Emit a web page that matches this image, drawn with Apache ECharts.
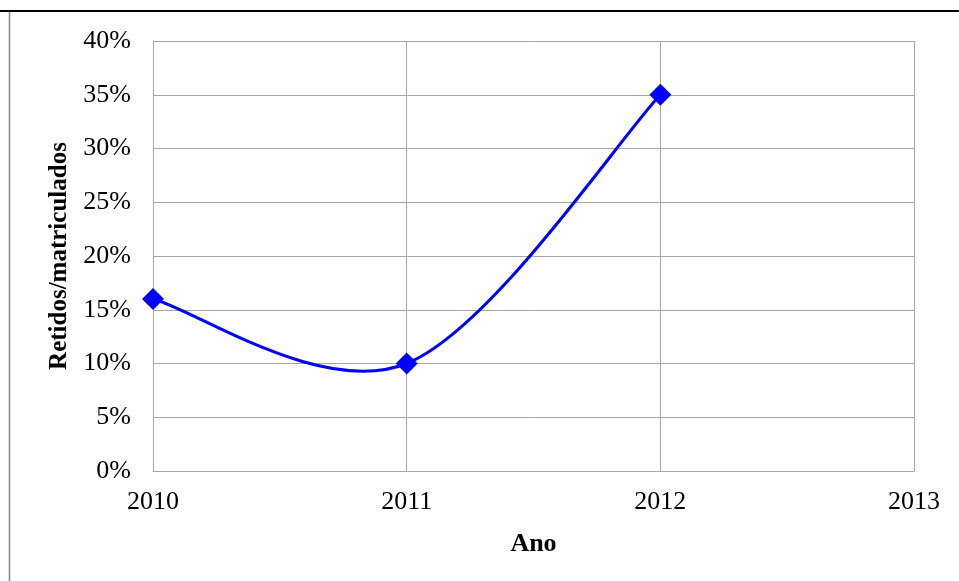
<!DOCTYPE html>
<html>
<head>
<meta charset="utf-8">
<script src="https://cdn.jsdelivr.net/npm/echarts@6/dist/echarts.min.js"></script>
<style>
    html, body { margin: 0; padding: 0; background: #fff; }
    #chart { width: 959px; height: 581px; }
</style>
</head>
<body>
<div id="chart"></div>
<script>
var years = [2010, 2011, 2012];
var retidos = [16, 10, 35];   // % retidos/matriculados

var chart = echarts.init(document.getElementById('chart'));

var points = [];
for (var i = 0; i < years.length; i++) {
    points.push([years[i], retidos[i]]);
}

var serif = '"Liberation Serif", "Times New Roman", serif';

// spreadsheet-style smoothed line: one bezier per segment,
// control points taken from the neighbouring data points
function renderCurve(params, api) {
    var i = params.dataIndex;
    var n = points.length;
    if (i >= n - 1) {
        return null;
    }
    var p0 = api.coord(points[Math.max(i - 1, 0)]);
    var p1 = api.coord(points[i]);
    var p2 = api.coord(points[i + 1]);
    var p3 = api.coord(points[Math.min(i + 2, n - 1)]);
    return {
        type: 'bezierCurve',
        shape: {
            x1: p1[0], y1: p1[1],
            cpx1: p1[0] + (p2[0] - p0[0]) / 6,
            cpy1: p1[1] + (p2[1] - p0[1]) / 6,
            cpx2: p2[0] - (p3[0] - p1[0]) / 6,
            cpy2: p2[1] - (p3[1] - p1[1]) / 6,
            x2: p2[0], y2: p2[1]
        },
        style: { stroke: '#0000ff', lineWidth: 3, fill: null }
    };
}

chart.setOption({
    backgroundColor: '#ffffff',
    animation: false,
    graphic: [
        {
            type: 'line',
            shape: { x1: 0, y1: 11, x2: 959, y2: 11 },
            style: { stroke: '#000', lineWidth: 2 }
        },
        {
            type: 'line',
            shape: { x1: 9.5, y1: 12, x2: 9.5, y2: 581 },
            style: { stroke: '#888', lineWidth: 1.5 }
        }
    ],
    grid: {
        left: 153,
        right: 45,
        top: 41,
        bottom: 110
    },
    xAxis: {
        type: 'value',
        min: 2010,
        max: 2013,
        interval: 1,
        name: 'Ano',
        nameLocation: 'middle',
        nameGap: 60,
        nameTextStyle: { fontFamily: serif, fontSize: 26, fontWeight: 'bold', color: '#000' },
        axisLine: { show: true, lineStyle: { color: '#a6a6a6', width: 1 } },
        axisTick: { show: false },
        splitLine: { show: true, lineStyle: { color: '#a6a6a6', width: 1 } },
        axisLabel: {
            fontFamily: serif, fontSize: 26, color: '#000', margin: 18,
            formatter: function (v) { return String(v); }
        }
    },
    yAxis: {
        type: 'value',
        min: 0,
        max: 40,
        interval: 5,
        name: 'Retidos/matriculados',
        nameLocation: 'middle',
        nameGap: 77,
        nameTextStyle: { fontFamily: serif, fontSize: 25, fontWeight: 'bold', color: '#000' },
        axisLine: { show: true, lineStyle: { color: '#a6a6a6', width: 1 } },
        axisTick: { show: false },
        splitLine: { show: true, lineStyle: { color: '#a6a6a6', width: 1 } },
        axisLabel: {
            fontFamily: serif, fontSize: 26, color: '#000', margin: 22,
            formatter: '{value}%'
        }
    },
    series: [
        {
            type: 'custom',
            renderItem: renderCurve,
            data: points,
            z: 2
        },
        {
            type: 'scatter',
            data: points,
            symbol: 'diamond',
            symbolSize: [22, 22],
            itemStyle: { color: '#0000ff', opacity: 1 },
            z: 3
        }
    ]
});
</script>
</body>
</html>
